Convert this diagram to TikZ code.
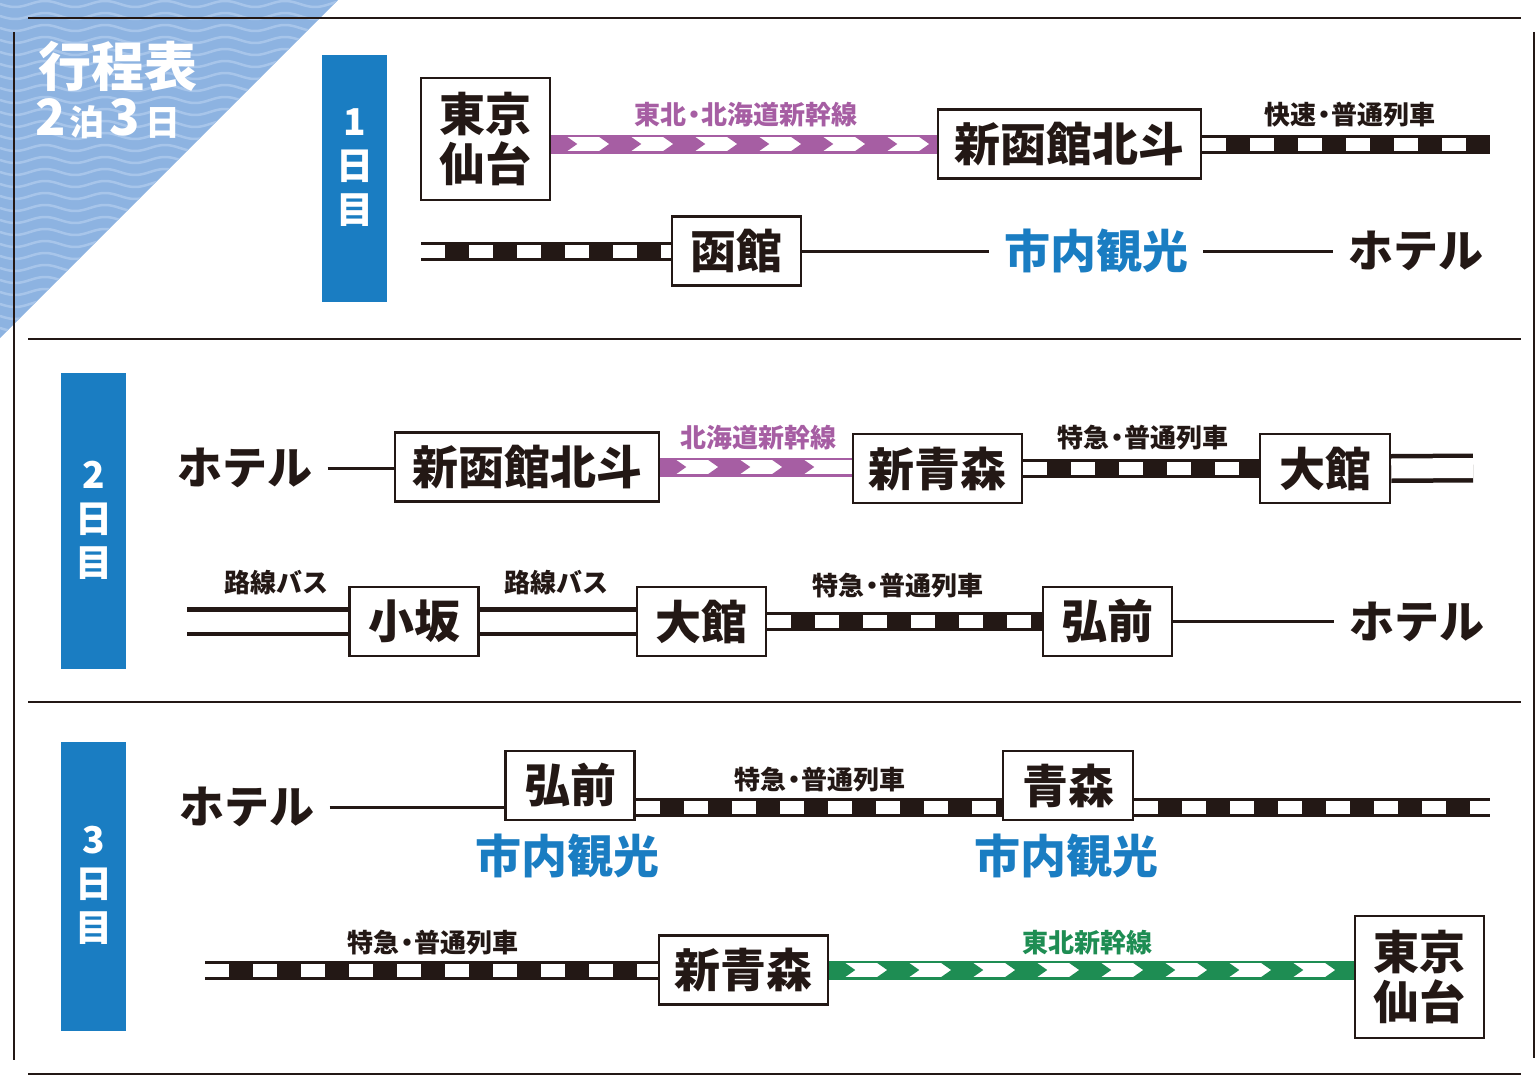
\documentclass[tikz,border=0pt]{standalone}
\usepackage{fontspec}
\newfontfamily\jp{Noto Sans CJK JP}
\usetikzlibrary{calc,positioning,decorations.markings,backgrounds}
\definecolor{ink}{HTML}{231815}
\definecolor{dayblue}{HTML}{1A7DC2}
\definecolor{hokkaido}{HTML}{A65EA3}
\definecolor{tohoku}{HTML}{1E8D53}
\definecolor{wavebg}{HTML}{8DB3E1}
\definecolor{wavefg}{HTML}{A7C5EA}
\newcommand{\nakaguro}{\kern-.22em・\kern-.22em}

\begin{document}
\begin{tikzpicture}[x=1pt,y=-1pt,>=stealth]

    % Styles
    \tikzset{
        stn/.style={draw=ink, line width=2.5pt, fill=white, inner sep=0pt,
            minimum width=129pt, minimum height=69pt, align=center, text=ink,
            font=\jp\bfseries\fontsize{46}{50}\selectfont},
        spot/.style={inner xsep=15pt, inner ysep=0pt, text=ink,
            font=\jp\bfseries\fontsize{46}{50}\selectfont},
        hotel/.style={spot, font=\jp\bfseries\fontsize{45}{50}\selectfont},
        tag/.style={inner sep=0pt, text=ink, font=\jp\bfseries\fontsize{26}{30}\selectfont},
        dayband/.style={fill=dayblue},
        daytext/.style={text=white, align=center, inner sep=0pt,
            font=\jp\bfseries\fontsize{37}{44}\selectfont},
        sepline/.style={draw=ink, line width=2pt},
        walk/.style={draw=ink, line width=3pt},
        jr/.style={draw=white, line width=13pt, dash pattern=on 24pt off 24pt,
            preaction={draw=ink, line width=19pt, solid}},
        bus/.style={draw=ink, line width=4.5pt, double=white, double distance=20pt},
        shin/.style={draw=#1, line width=19pt,
            postaction={draw=white, line width=14pt, solid},
            postaction={decorate, decoration={markings,
                mark=between positions 0 and 1 step 64pt with {
                    \fill[#1] (-16pt,-7pt) -- (16pt,-7pt) -- (26pt,0pt) -- (16pt,7pt)
                        -- (-16pt,7pt) -- (-6pt,0pt) -- cycle;}}}}
    }

    \useasboundingbox (0,0) rectangle (1536,1081);

    % Corner with waves
    \begin{scope}
        \clip (0,0) -- (338,0) -- (0,338) -- cycle;
        \fill[wavebg] (0,0) rectangle (340,340);
        \foreach \wy in {4,16,...,340}
            \draw[wavefg, line width=2.5pt] plot[domain=0:340, samples=70, smooth] (\x, {\wy + 3*sin(6*\x)});
    \end{scope}
    \node[text=white, inner sep=0pt, font=\jp\bfseries\fontsize{53}{53}\selectfont] (ttl) at (117.5,66) {行程表};
    \node[text=white, inner sep=0pt, anchor=base west] (stay) at (35,135) {\jp\bfseries\fontsize{50}{50}\selectfont 2\kern4pt\fontsize{35}{35}\selectfont 泊\kern5pt\fontsize{50}{50}\selectfont 3\kern5pt\fontsize{35}{35}\selectfont 日};

    % Frame
    \draw[sepline] (28,18) -- (1521,18);
    \draw[sepline] (28,339) -- (1521,339);
    \draw[sepline] (28,702) -- (1521,702);
    \draw[sepline] (28,1074) -- (1521,1074);
    \draw[sepline] (14,32) -- (14,1060);
    \draw[sepline] (1534,32) -- (1534,1058);

    % Day bands
    \fill[dayband] (322,55) rectangle (387,302);
    \fill[dayband] (61,373) rectangle (126,669);
    \fill[dayband] (61,742) rectangle (126,1031);
    \node[daytext] (d1) at (355,168) {1\\日\\目};
    \node[daytext] (d2) at (94,520) {2\\日\\目};
    \node[daytext] (d3) at (94,885) {3\\日\\目};

    % Day 1
    \node[stn, minimum height=122pt] (tkA) at (485.5,139) {東京\\仙台};
    \node[stn, minimum width=263pt] (hnA) at (1069.5,144) {新函館北斗};
    \node[stn] (hako) at (736.5,251) {函館};
    \node[spot, text=dayblue] (kanA) at (1096,251) {市内観光};
    \node[hotel] (htA) at (1416,251) {ホテル};
    \node[tag, text=hokkaido] (lbA) at (746,115) {東北\nakaguro 北海道新幹線};
    \node[tag] (lbB) at (1350,115) {快速\nakaguro 普通列車};
    \coordinate (endA) at (1490,144);
    \coordinate (startB) at (421,251);

    % Day 2
    \node[hotel] (htB) at (245,468) {ホテル};
    \node[stn, minimum width=264pt] (hnB) at (527,467) {新函館北斗};
    \node[stn, minimum width=169pt] (saB) at (937.5,468.5) {新青森};
    \node[stn, minimum width=130pt] (odB) at (1325,468.5) {大館};
    \node[tag, text=hokkaido] (lbC) at (758,438) {北海道新幹線};
    \node[tag] (lbD) at (1143,438) {特急\nakaguro 普通列車};
    \coordinate (endB) at (1473,468);

    \node[stn] (ksk) at (414,621.5) {小坂};
    \node[stn] (odC) at (701.5,621.5) {大館};
    \node[stn] (hrC) at (1107.5,621.5) {弘前};
    \node[hotel] (htC) at (1417,621.5) {ホテル};
    \node[tag] (lbE) at (276,583) {路線バス};
    \node[tag] (lbF) at (556,583) {路線バス};
    \node[tag] (lbG) at (898,586) {特急\nakaguro 普通列車};
    \coordinate (startC) at (187,621.5);

    % Day 3
    \node[hotel] (htD) at (247,807) {ホテル};
    \node[stn] (hrD) at (570,785.5) {弘前};
    \node[stn, minimum width=130pt] (aoD) at (1068,785.5) {青森};
    \node[spot, text=dayblue] (kanD) at (567,856) {市内観光};
    \node[spot, text=dayblue] (kanE) at (1066,856) {市内観光};
    \node[tag] (lbH) at (820,780) {特急\nakaguro 普通列車};
    \coordinate (endD) at (1490,807);

    \node[stn, minimum width=169pt] (saE) at (743.5,970) {新青森};
    \node[stn, minimum height=122pt] (tkE) at (1419.5,977) {東京\\仙台};
    \node[tag] (lbI) at (433,943) {特急\nakaguro 普通列車};
    \node[tag, text=tohoku] (lbJ) at (1087,943) {東北新幹線};
    \coordinate (startE) at (205,970);

    % Connectors
    \begin{scope}[on background layer]
        \draw[shin=hokkaido] (tkA.east |- hnA) -- (hnA.west);
        \draw[jr] (hnA.east) -- (endA);
        \draw[jr] (startB) -- (hako.west);
        \draw[walk] (hako.east) -- (kanA.west);
        \draw[walk] (kanA.east) -- (htA.west);

        \draw[walk] (htB.east) -- (htB.east -| hnB.west);
        \draw[shin=hokkaido] (hnB.east) -- (hnB.east -| saB.west);
        \draw[jr] (saB.east) -- (odB.west);
        \draw[bus] (odB.east) -- (endB);

        \draw[bus] (startC) -- (ksk.west);
        \draw[bus] (ksk.east) -- (odC.west);
        \draw[jr] (odC.east) -- (hrC.west);
        \draw[walk] (hrC.east) -- (htC.west);

        \draw[walk] (htD.east) -- (htD -| hrD.west);
        \draw[jr] (htD -| hrD.east) -- (htD -| aoD.west);
        \draw[jr] (htD -| aoD.east) -- (endD);

        \draw[jr] (startE) -- (saE.west);
        \draw[shin=tohoku] (saE.east) -- (saE.east -| tkE.west);
    \end{scope}

\end{tikzpicture}
\end{document}
